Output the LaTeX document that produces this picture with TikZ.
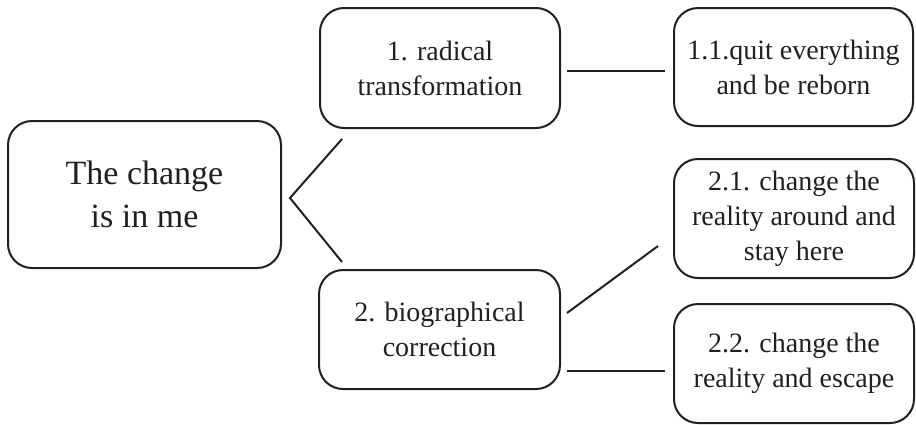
\documentclass[tikz,border=0pt]{standalone}
\usepackage{fontspec}
\setmainfont{Liberation Serif}
\usetikzlibrary{calc}
\definecolor{ink}{HTML}{231F20}
\begin{document}
\begin{tikzpicture}[x=1pt,y=-1pt,
  box/.style={draw=ink,line width=2pt,rounded corners=24pt,anchor=north west,
    align=center,inner sep=0pt,text=ink,font=\fontsize{28}{35}\selectfont},
  link/.style={draw=ink,line width=2pt}]
\useasboundingbox (0,0) rectangle (916,424);
\node[box,minimum width=273pt,minimum height=147pt,font=\fontsize{34}{43}\selectfont] (main) at (7,120) {The change\\is in me};
\node[box,minimum width=240pt,minimum height=120pt] (b1) at (319,7) {1. radical\\transformation};
\node[box,minimum width=239pt,minimum height=118pt] (b11) at (673,7) {1.1.quit everything\\and be reborn};
\node[box,minimum width=240pt,minimum height=119pt] (b21) at (673,158) {2.1. change the\\reality around and\\stay here};
\node[box,minimum width=241pt,minimum height=119pt] (b2) at (318,269) {2. biographical\\correction};
\node[box,minimum width=240pt,minimum height=119pt] (b22) at (673,303) {2.2. change the\\reality and escape};
\draw[link] ($(b1.south west)+(23,10)$) -- ($(main.east)+(8,3.5)$) -- ($(b2.north west)+(24,-7)$);
\draw[link] ($(b1.east)+(6,3)$) -- ($(b11.west)+(-8,4)$);
\draw[link] ($(b2.east)+(6,-16.5)$) -- ($(b21.west)+(-15,27.5)$);
\draw[link] ($(b2.east)+(6,41.5)$) -- ($(b22.west)+(-8,7.5)$);
\end{tikzpicture}
\end{document}
